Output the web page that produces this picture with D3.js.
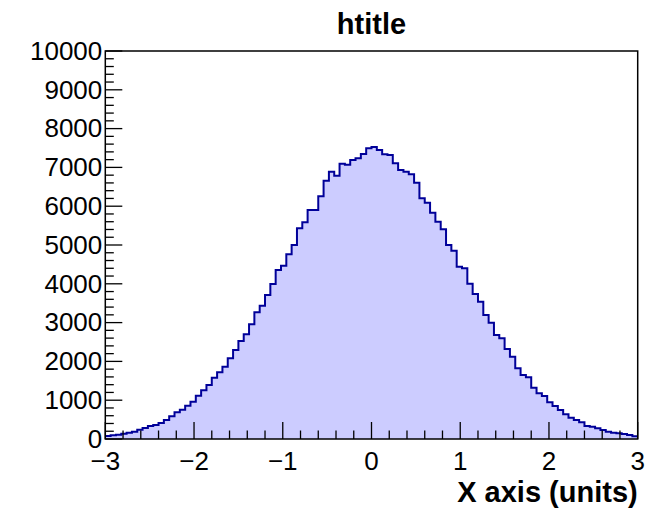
<!DOCTYPE html>
<html>
<head>
<meta charset="utf-8">
<script src="https://cdn.jsdelivr.net/npm/d3@7"></script>
<style>
  html, body { margin: 0; padding: 0; background: #fff; }
  svg { display: block; font-family: "Liberation Sans", Arial, Helvetica, sans-serif; }
</style>
</head>
<body>
<svg id="chart" width="648" height="508"></svg>
<script>
// Histogram: 100 equal bins over [-3, 3]
const xRange = [-3, 3];
const binCounts = [
  80, 94, 112, 138, 163, 189, 241, 284, 335, 361,
  412, 490, 584, 687, 756, 859, 962, 1117, 1254, 1392,
  1581, 1718, 1864, 2079, 2294, 2526, 2698, 2956, 3265, 3436,
  3711, 3995, 4356, 4467, 4760, 5000, 5430, 5584, 5902, 5902,
  6255, 6658, 6890, 6786, 7096, 7070, 7190, 7234, 7345, 7492,
  7526, 7448, 7337, 7320, 7105, 6933, 6890, 6821, 6606, 6203,
  6091, 5833, 5601, 5404, 5000, 4853, 4441, 4399, 4003, 3737,
  3539, 3196, 2997, 2680, 2595, 2320, 2122, 1821, 1649, 1590,
  1323, 1177, 1108, 945, 850, 747, 636, 550, 490, 430,
  335, 318, 275, 232, 189, 163, 146, 129, 103, 69
];
const xTickValues = [-3, -2, -1, 0, 1, 2, 3];
const yTickValues = [0, 1000, 2000, 3000, 4000, 5000, 6000, 7000, 8000, 9000, 10000];
const titleText = "htitle";
const xTitleText = "X axis (units)";

const svg = d3.select("#chart");
const frame = { left: 105.3, right: 637.7, top: 51, bottom: 439 };

const x = d3.scaleLinear().domain(xRange).range([frame.left, frame.right]);
const y = d3.scaleLinear().domain([0, 10000]).range([frame.bottom, frame.top]);

const nb = binCounts.length;
const bw = (xRange[1] - xRange[0]) / nb;
const bins = binCounts.map((v, i) => ({ x0: xRange[0] + i * bw, x1: xRange[0] + (i + 1) * bw, v }));

// step outline across the bins
const stepPts = [];
bins.forEach(b => { stepPts.push([b.x0, b.v]); stepPts.push([b.x1, b.v]); });

const line = d3.line().x(d => x(d[0])).y(d => y(d[1]));
const area = d3.area().x(d => x(d[0])).y0(y(0)).y1(d => y(d[1]));

svg.append("path")
  .attr("d", area(stepPts))
  .attr("fill", "#ccccff");

svg.append("path")
  .attr("d", line(stepPts))
  .attr("fill", "none")
  .attr("stroke", "#000099")
  .attr("stroke-width", 2)
  .attr("stroke-linejoin", "miter");

// Ticks drawn inward from the left and bottom edges
const majorLen = 17, minorLen = 8.5;
const tickG = svg.append("g").attr("stroke", "#000").attr("stroke-width", 1.3);

// y ticks (5 subdivisions)
const yMinor = d3.range(0, 10000 + 1, 200);
yMinor.forEach(v => {
  const major = v % 1000 === 0;
  tickG.append("line")
    .attr("x1", frame.left).attr("x2", frame.left + (major ? majorLen : minorLen))
    .attr("y1", y(v)).attr("y2", y(v));
});
// x ticks (5 subdivisions)
const xMinor = d3.range(0, 31).map(i => -3 + i * 0.2);
xMinor.forEach((v, i) => {
  const major = i % 5 === 0;
  tickG.append("line")
    .attr("x1", x(v)).attr("x2", x(v))
    .attr("y1", frame.bottom).attr("y2", frame.bottom - (major ? majorLen : minorLen));
});

// Frame
svg.append("rect")
  .attr("x", frame.left).attr("y", frame.top)
  .attr("width", frame.right - frame.left).attr("height", frame.bottom - frame.top)
  .attr("fill", "none").attr("stroke", "#000").attr("stroke-width", 1.5);

// Tick labels
const fmtX = v => (v < 0 ? "\u2212" + Math.abs(v) : String(v));
svg.append("g").selectAll("text").data(xTickValues).join("text")
  .attr("x", d => x(d)).attr("y", frame.bottom + 31)
  .attr("text-anchor", "middle")
  .attr("font-size", 26)
  .text(fmtX);

svg.append("g").selectAll("text").data(yTickValues).join("text")
  .attr("x", frame.left - 3).attr("y", d => y(d))
  .attr("dy", "0.34em")
  .attr("text-anchor", "end")
  .attr("font-size", 26)
  .text(d => String(d));

// Titles
svg.append("text")
  .attr("x", (frame.left + frame.right) / 2).attr("y", 34)
  .attr("text-anchor", "middle")
  .attr("font-size", 29).attr("font-weight", "bold")
  .text(titleText);

svg.append("text")
  .attr("x", frame.right).attr("y", 502)
  .attr("text-anchor", "end")
  .attr("font-size", 29).attr("font-weight", "bold")
  .text(xTitleText);
</script>
</body>
</html>
